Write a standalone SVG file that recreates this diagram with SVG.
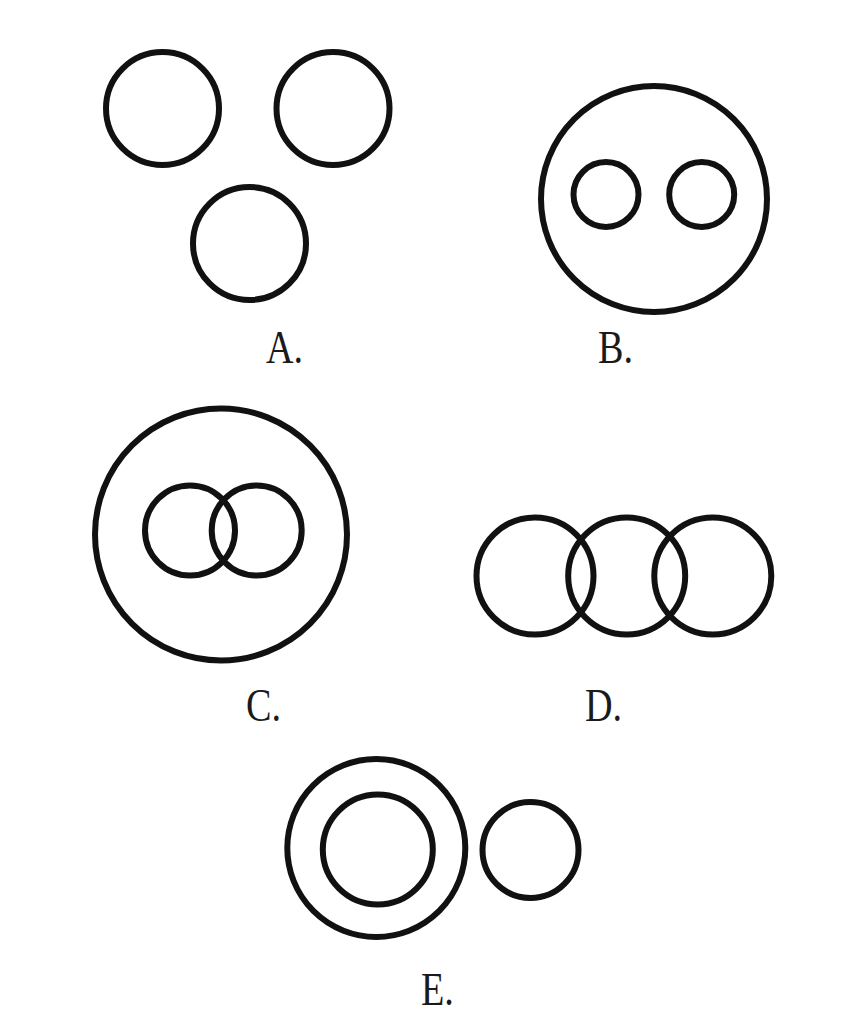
<svg xmlns="http://www.w3.org/2000/svg" width="867" height="1031" viewBox="0 0 867 1031">
<style>
circle { fill: none; stroke: #111; stroke-width: 6; }
text { font-family: "Liberation Serif", "Times New Roman", serif; font-size: 46px; fill: #1a1a1a; }
</style>
<rect width="867" height="1031" fill="#fff"/>
<g id="A">
<circle cx="162.5" cy="108.5" r="56.5"/>
<circle cx="333" cy="108.5" r="56.5"/>
<circle cx="249.5" cy="243.5" r="56.5"/>
<text transform="translate(266,363) scale(0.83,1)">A.</text>
</g>
<g id="B">
<circle cx="654" cy="199" r="113"/>
<circle cx="606" cy="194.5" r="32.5"/>
<circle cx="701.7" cy="194.5" r="32.5"/>
<text transform="translate(598,363) scale(0.83,1)">B.</text>
</g>
<g id="C">
<circle cx="221" cy="534.5" r="126"/>
<circle cx="190" cy="530.5" r="45"/>
<circle cx="256.7" cy="530.5" r="45"/>
<text transform="translate(246,721) scale(0.83,1)">C.</text>
</g>
<g id="D">
<circle cx="535" cy="576" r="58.5"/>
<circle cx="626.7" cy="576" r="58.5"/>
<circle cx="712.8" cy="576" r="58.5"/>
<text transform="translate(585,721) scale(0.83,1)">D.</text>
</g>
<g id="E">
<circle cx="376.3" cy="848" r="89"/>
<circle cx="377.8" cy="849.5" r="55"/>
<circle cx="530.5" cy="850" r="48"/>
<text transform="translate(421,1005) scale(0.83,1)">E.</text>
</g>
<g id="connectors"/>
</svg>
